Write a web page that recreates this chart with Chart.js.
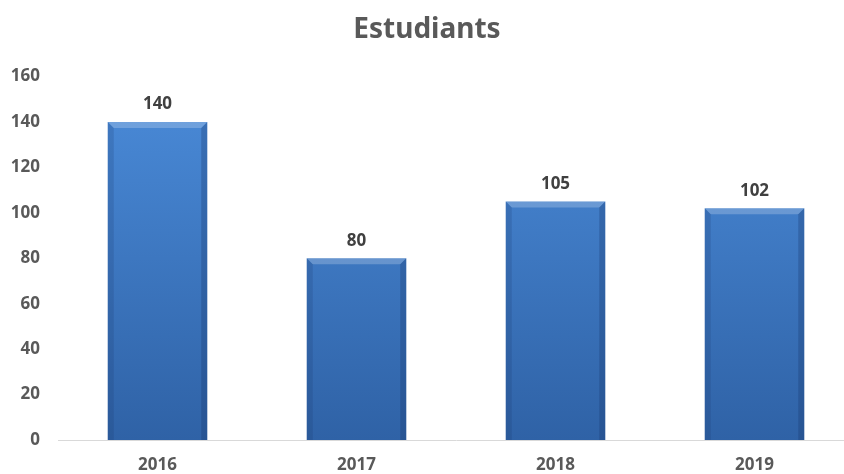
<!DOCTYPE html>
<html>
<head>
<meta charset="utf-8">
<script src="https://cdn.jsdelivr.net/npm/chart.js@4.4.1/dist/chart.umd.min.js"></script>
<style>
  html, body { margin: 0; padding: 0; background: #fff; overflow: hidden; }
  #wrap { width: 854px; height: 474px; }
</style>
</head>
<body>
<div id="wrap"><canvas id="chart" width="854" height="474"></canvas></div>
<script>
  // ===== Data =====
  const years = ["2016", "2017", "2018", "2019"];
  const students = [140, 80, 105, 102];
  const yTicks = [0, 20, 40, 60, 80, 100, 120, 140, 160];

  const FONT = "'Noto Sans', sans-serif";
  const TEXT_GREY = "#595959";

  // vertical blue gradient for the bars
  function barFill(ctx) {
    const area = ctx.chart.chartArea;
    if (!area) return "#3a78c6";
    const g = ctx.chart.ctx.createLinearGradient(0, area.top, 0, area.bottom);
    g.addColorStop(0, "#4b8cda");
    g.addColorStop(1, "#2f62a6");
    return g;
  }

  // bevel edges + value labels on top of each bar
  const bevelAndLabels = {
    id: "bevelAndLabels",
    afterDatasetsDraw(chart) {
      const c = chart.ctx;
      const meta = chart.getDatasetMeta(0);
      meta.data.forEach((bar, i) => {
        const { x, y, base, width } = bar.getProps(["x", "y", "base", "width"], true);
        const l = x - width / 2, r = x + width / 2, b = 6;
        c.save();
        // top highlight
        c.fillStyle = "rgba(255,255,255,0.22)";
        c.beginPath();
        c.moveTo(l, y); c.lineTo(r, y); c.lineTo(r - b, y + b); c.lineTo(l + b, y + b);
        c.closePath(); c.fill();
        // left edge
        c.fillStyle = "rgba(20,50,100,0.18)";
        c.beginPath();
        c.moveTo(l, y); c.lineTo(l + b, y + b); c.lineTo(l + b, base); c.lineTo(l, base);
        c.closePath(); c.fill();
        // right edge
        c.fillStyle = "rgba(20,50,100,0.28)";
        c.beginPath();
        c.moveTo(r, y); c.lineTo(r - b, y + b); c.lineTo(r - b, base); c.lineTo(r, base);
        c.closePath(); c.fill();
        // value label
        c.fillStyle = "#404040";
        c.font = "bold 17px " + FONT;
        c.textAlign = "center";
        c.textBaseline = "bottom";
        c.fillText(String(students[i]), x, y - 9);
        c.restore();
      });
    }
  };

  new Chart(document.getElementById("chart"), {
    type: "bar",
    data: {
      labels: years,
      datasets: [{
        data: students,
        backgroundColor: barFill,
        borderWidth: 0,
        categoryPercentage: 1,
        barPercentage: 0.5
      }]
    },
    options: {
      responsive: false,
      animation: false,
      layout: { padding: { left: 0, right: 0, top: 0, bottom: 0 } },
      plugins: {
        legend: { display: false },
        tooltip: { enabled: false },
        title: {
          display: true,
          text: "Estudiants",
          color: TEXT_GREY,
          font: { family: FONT, size: 28, weight: "bold" },
          padding: { top: 13, bottom: 30 }
        }
      },
      scales: {
        x: {
          afterFit(axis) { axis.height = 34; },
          grid: { display: false },
          border: { display: true, color: "#d9d9d9", width: 1 },
          ticks: { color: TEXT_GREY, padding: 7, font: { family: FONT, size: 17, weight: "bold" } }
        },
        y: {
          min: 0,
          max: 160,
          afterBuildTicks(axis) { axis.ticks = yTicks.map(v => ({ value: v })); },
          afterFit(axis) { axis.width = 58; },
          grid: { display: false },
          border: { display: false },
          ticks: { color: TEXT_GREY, padding: 10, font: { family: FONT, size: 17, weight: "bold" } }
        }
      }
    },
    plugins: [bevelAndLabels]
  });
</script>
</body>
</html>
